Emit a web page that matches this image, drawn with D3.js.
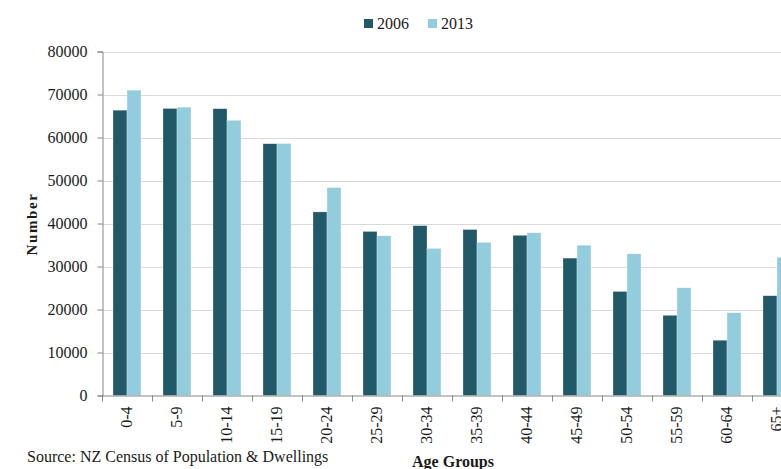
<!DOCTYPE html>
<html>
<head>
<meta charset="utf-8">
<script src="https://cdn.jsdelivr.net/npm/d3@7/dist/d3.min.js"></script>
<style>
  html, body { margin: 0; padding: 0; background: #fff; overflow: hidden; }
  svg { display: block; }
  text { font-family: "Liberation Serif", "DejaVu Serif", serif; fill: #1a1a1a; }
</style>
</head>
<body>
<svg id="chart" width="781" height="469"></svg>
<script>
// Population by age group, NZ Census 2006 and 2013
const ageGroups = ["0-4", "5-9", "10-14", "15-19", "20-24", "25-29", "30-34",
                   "35-39", "40-44", "45-49", "50-54", "55-59", "60-64", "65+"];
const years = ["2006", "2013"];
const values2006 = [66350, 66750, 66700, 58550, 42700, 38150, 39500,
                    38600, 37250, 31950, 24200, 18650, 12850, 23200];
const values2013 = [71000, 67050, 64000, 58600, 48350, 37150, 34200,
                    35600, 37850, 34950, 32950, 25050, 19250, 32150];
const yTicks = [0, 10000, 20000, 30000, 40000, 50000, 60000, 70000, 80000];
const colors = ["#215968", "#93CDDD"];

const svg = d3.select("#chart");
const plotLeft = 102, plotRight = 802, plotTop = 51.5, plotBottom = 395.5;

const x = d3.scaleBand().domain(ageGroups).range([plotLeft, plotRight])
  .paddingInner(0.44).paddingOuter(0.22);
const xSub = d3.scaleBand().domain(years).range([0, x.bandwidth()]).padding(0);
const y = d3.scaleLinear().domain([0, 80000]).range([plotBottom, plotTop]);

// horizontal gridlines
svg.append("g").selectAll("line").data(yTicks.slice(1)).join("line")
  .attr("x1", plotLeft).attr("x2", plotRight)
  .attr("y1", d => Math.round(y(d)) + 0.5).attr("y2", d => Math.round(y(d)) + 0.5)
  .attr("stroke", "#d9d9d9").attr("stroke-width", 1);

// bars
const rows = ageGroups.map((g, i) => ({ group: g, vals: [values2006[i], values2013[i]] }));
const groups = svg.append("g").selectAll("g").data(rows).join("g")
  .attr("transform", d => `translate(${x(d.group)},0)`);
groups.selectAll("rect").data(d => d.vals.map((v, k) => ({ year: years[k], v, k })))
  .join("rect")
  .attr("x", d => xSub(d.year))
  .attr("width", xSub.bandwidth())
  .attr("y", d => y(d.v))
  .attr("height", d => y(0) - y(d.v))
  .attr("fill", d => colors[d.k])
  .attr("stroke", "rgba(255,255,255,0.45)")
  .attr("stroke-width", 0.6);

// y axis
const yAxis = d3.axisLeft(y).tickValues(yTicks).tickSize(5).tickPadding(10)
  .tickFormat(d3.format("d"));
const gy = svg.append("g").attr("transform", `translate(${plotLeft + 0.5},0)`).call(yAxis);
gy.select(".domain").attr("stroke", "#868686");
gy.selectAll(".tick line").attr("stroke", "#868686");
gy.selectAll(".tick text").style("font-size", "16px").attr("fill", "#1a1a1a");

// x axis baseline and boundary ticks
svg.append("line").attr("x1", plotLeft).attr("x2", plotRight)
  .attr("y1", plotBottom + 0.5).attr("y2", plotBottom + 0.5).attr("stroke", "#868686");
const boundaries = d3.range(ageGroups.length + 1).map(i => plotLeft + i * x.step());
svg.append("g").selectAll("line").data(boundaries).join("line")
  .attr("x1", d => Math.round(d) + 0.5).attr("x2", d => Math.round(d) + 0.5)
  .attr("y1", plotBottom).attr("y2", plotBottom + 6).attr("stroke", "#868686");

// x tick labels, rotated
svg.append("g").selectAll("text").data(ageGroups).join("text")
  .attr("transform", d => `translate(${x(d) + x.bandwidth() / 2 + 5},${plotBottom + 11}) rotate(-90)`)
  .attr("text-anchor", "end")
  .style("font-size", "16px")
  .text(d => d);

// axis titles
svg.append("text").attr("transform", `translate(37,224) rotate(-90)`)
  .attr("text-anchor", "middle").style("font-size", "15px").style("font-weight", "bold")
  .style("letter-spacing", "1.6px")
  .text("Number");
svg.append("text").attr("x", 453).attr("y", 467)
  .attr("text-anchor", "middle").style("font-size", "16px").style("font-weight", "bold")
  .text("Age Groups");

// source note
svg.append("text").attr("x", 27).attr("y", 462).style("font-size", "16px")
  .text("Source: NZ Census of Population & Dwellings");

// legend
const legend = svg.append("g");
const legendX = [364, 428];
years.forEach((yr, k) => {
  legend.append("rect").attr("x", legendX[k]).attr("y", 19).attr("width", 9).attr("height", 9)
    .attr("fill", colors[k]);
  legend.append("text").attr("x", legendX[k] + 13).attr("y", 28.5)
    .style("font-size", "16px").text(yr);
});
</script>
</body>
</html>
